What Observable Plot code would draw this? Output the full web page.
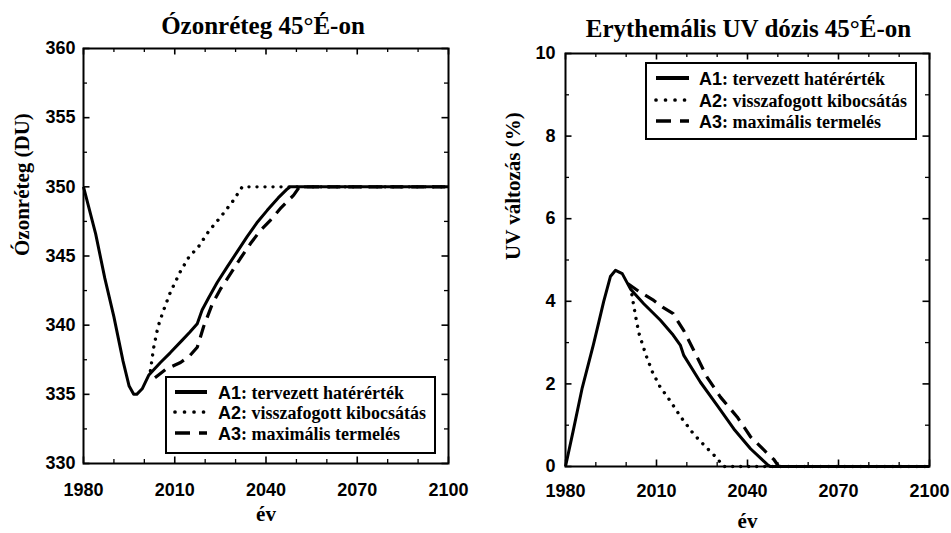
<!DOCTYPE html>
<html>
<head>
<meta charset="utf-8">
<script src="https://cdn.jsdelivr.net/npm/d3@7"></script>
<script src="https://cdn.jsdelivr.net/npm/@observablehq/plot@0.6"></script>
<style>
  body { margin: 0; background: #fff; }
  #wrap { position: relative; width: 951px; height: 533px; overflow: hidden; background: #fff; }
  #wrap svg { position: absolute; top: 0; max-width: none; }
</style>
</head>
<body>
<div id="wrap"></div>
<script>
// ---------- data ----------
const seriesNames = ["A1", "A2", "A3"];
const seriesLabels = ["tervezett hatérérték", "visszafogott kibocsátás", "maximális termelés"];

const xTickLabels = [1980, 2010, 2040, 2070, 2100];
const xMinorTicks = [1990, 2000, 2020, 2030, 2050, 2060, 2080, 2090];
const ozoneTickLabels = [330, 335, 340, 345, 350, 355, 360];
const ozoneMinorTicks = [332.5, 337.5, 342.5, 347.5, 352.5, 357.5];
const uvTickLabels = [0, 2, 4, 6, 8, 10];
const uvMinorTicks = [1, 3, 5, 7, 9];

const ozoneTitle = "Ózonréteg 45°É-on";
const uvTitle = "Erythemális UV dózis 45°É-on";
const ozoneYLabel = "Ózonréteg (DU)";
const uvYLabel = "UV változás (%)";
const xLabel = "év";

// Ozone (DU)
const ozoneA1Year = [1980, 1984, 1987, 1990, 1993, 1995, 1996.5, 1997.5, 1999.3, 2001.5, 2005.3, 2008.5, 2012.4, 2015, 2017.4, 2019, 2021.2, 2024, 2027.2, 2030.5, 2033.8, 2037, 2040.4, 2044, 2047, 2048, 2100];
const ozoneA1 = [350, 346.6, 343.4, 340.6, 337.4, 335.6, 335.0, 335.0, 335.4, 336.4, 337.3, 338.0, 338.9, 339.5, 340.1, 341.1, 342.0, 343.1, 344.2, 345.3, 346.4, 347.4, 348.3, 349.2, 349.85, 350, 350];
const ozoneA2Year = [2002, 2003, 2004.5, 2006.2, 2008.6, 2011.9, 2014.6, 2017.9, 2021.2, 2025, 2028.9, 2032.2, 2100];
const ozoneA2 = [336.7, 338.3, 339.9, 341.0, 342.4, 343.9, 344.9, 345.7, 346.8, 347.8, 348.9, 350, 350];
const ozoneA3Year = [2003.5, 2007, 2011.9, 2015, 2017.4, 2019.5, 2022.3, 2025, 2028.3, 2031.5, 2034.9, 2038, 2041.5, 2045, 2049.1, 2051, 2100];
const ozoneA3 = [336.2, 336.8, 337.3, 337.8, 338.4, 339.9, 341.5, 342.6, 343.7, 344.8, 345.9, 346.8, 347.6, 348.5, 349.4, 350, 350];

// Erythemal UV change (%)
const uvA1Year = [1980, 1982.5, 1985.5, 1989.2, 1991, 1992.6, 1994.8, 1996.5, 1998.7, 2001.4, 2005.8, 2011.3, 2015.2, 2017.9, 2019, 2024.5, 2030, 2035.5, 2041, 2046.5, 2047.5, 2100];
const uvA1 = [0, 0.85, 1.9, 2.95, 3.5, 4.0, 4.6, 4.75, 4.67, 4.3, 3.94, 3.54, 3.21, 2.93, 2.69, 2.04, 1.48, 0.91, 0.43, 0.05, 0, 0];
const uvA2Year = [2001.5, 2002, 2003.2, 2004.2, 2006.6, 2008.6, 2011, 2014.6, 2018, 2022.3, 2026.7, 2030, 2032, 2100];
const uvA2 = [4.35, 4.1, 3.6, 3.23, 2.68, 2.3, 1.95, 1.58, 1.2, 0.78, 0.44, 0.2, 0, 0];
const uvA3Year = [2000.5, 2004, 2009.1, 2012, 2015.5, 2017, 2019, 2022.3, 2026.7, 2031.1, 2036.6, 2041, 2046.5, 2048.7, 2050.3, 2100];
const uvA3 = [4.43, 4.25, 4.02, 3.86, 3.7, 3.52, 3.29, 2.81, 2.16, 1.68, 1.2, 0.72, 0.32, 0.17, 0, 0];

// ---------- styles ----------
const lineStyle = {
  A1: {strokeWidth: 3, dash: null, cap: "butt"},
  A2: {strokeWidth: 3.4, dash: "0.01 8", cap: "round"},
  A3: {strokeWidth: 3.2, dash: "13 8", cap: "butt"}
};
const serif = "'Liberation Serif', 'Times New Roman', serif";
const sans = "'Liberation Sans', Arial, sans-serif";

function table(years, values) {
  return years.map((year, i) => ({year, value: values[i]}));
}

function panel(cfg) {
  const W = 475, H = 533;
  const xDomain = [1980, 2100];
  const [y0, y1] = cfg.yDomain;
  const pw = W - cfg.marginLeft - cfg.marginRight;
  const ph = H - cfg.marginTop - cfg.marginBottom;
  // inward tick lengths (px) converted to data units of the other axis
  const majorPx = 6.5, minorPx = 4;
  const ky = (y1 - y0) / ph, kx = (xDomain[1] - xDomain[0]) / pw;
  const xTicks = (vals, px, sw) => [
    Plot.ruleX(vals, {x: d => d, y1: y0, y2: y0 + px * ky, stroke: "black", strokeWidth: sw}),
    Plot.ruleX(vals, {x: d => d, y1: y1, y2: y1 - px * ky, stroke: "black", strokeWidth: sw})
  ];
  const yTicks = (vals, px, sw) => [
    Plot.ruleY(vals, {y: d => d, x1: xDomain[0], x2: xDomain[0] + px * kx, stroke: "black", strokeWidth: sw}),
    Plot.ruleY(vals, {y: d => d, x1: xDomain[1], x2: xDomain[1] - px * kx, stroke: "black", strokeWidth: sw})
  ];
  const lines = cfg.series.map((s, i) => {
    const st = lineStyle[seriesNames[i]];
    return Plot.line(table(s[0], s[1]), {
      x: "year", y: "value", stroke: "black",
      strokeWidth: st.strokeWidth, strokeDasharray: st.dash,
      strokeLinecap: st.cap, strokeLinejoin: "round"
    });
  });
  const svg = Plot.plot({
    width: W, height: H,
    marginLeft: cfg.marginLeft, marginRight: cfg.marginRight,
    marginTop: cfg.marginTop, marginBottom: cfg.marginBottom,
    style: {background: "white", color: "black", fontFamily: sans},
    x: {domain: xDomain, axis: null},
    y: {domain: cfg.yDomain, axis: null},
    marks: [
      lines[2], lines[1], lines[0],
      ...xTicks(xTickLabels, majorPx, 1.6),
      ...xTicks(xMinorTicks, minorPx, 1.3),
      ...yTicks(cfg.yTicks, majorPx, 1.6),
      ...yTicks(cfg.yMinor, minorPx, 1.3),
      Plot.frame({stroke: "black", strokeWidth: 2}),
      Plot.axisX(xTickLabels, {
        anchor: "bottom", tickSize: 0, tickPadding: cfg.xTickPad, label: null,
        tickFormat: d => String(d), fontSize: 18, fontWeight: "bold", fontFamily: sans
      }),
      Plot.axisY(cfg.yTicks, {
        anchor: "left", tickSize: 0, tickPadding: cfg.yTickPad, label: null,
        tickFormat: d => String(d), fontSize: 18, fontWeight: "bold", fontFamily: sans
      }),
      Plot.text([cfg.title], {
        text: d => d, frameAnchor: "top", dx: cfg.titleDx, dy: cfg.titleDy, lineAnchor: "bottom",
        fontSize: 25, fontWeight: "bold", fontFamily: serif
      }),
      Plot.text([xLabel], {
        text: d => d, frameAnchor: "bottom", dy: cfg.xLabelDy, lineAnchor: "middle",
        fontSize: 21, fontWeight: "bold", fontFamily: serif
      }),
      Plot.text([cfg.yLabel], {
        text: d => d, frameAnchor: "left", dx: cfg.yLabelDx, rotate: -90, lineAnchor: "middle",
        fontSize: 21, fontWeight: "bold", fontFamily: serif
      })
    ]
  });
  svg.style.left = cfg.left + "px";

  // legend box
  const L = cfg.legend;
  const g = d3.select(svg).append("g");
  g.append("rect")
    .attr("x", L.x).attr("y", L.y).attr("width", L.w).attr("height", L.h)
    .attr("fill", "white").attr("stroke", "black").attr("stroke-width", 2);
  seriesNames.forEach((name, i) => {
    const st = lineStyle[name];
    g.append("line")
      .attr("x1", L.sx1).attr("x2", L.sx2)
      .attr("y1", L.rows[i] - 7).attr("y2", L.rows[i] - 7)
      .attr("stroke", "black")
      .attr("stroke-width", i === 0 ? 4 : st.strokeWidth + 0.3)
      .attr("stroke-dasharray", i === 1 ? "0.01 9.5" : i === 2 ? "15 9" : null)
      .attr("stroke-linecap", st.cap);
    const t = g.append("text")
      .attr("x", L.tx).attr("y", L.rows[i])
      .attr("text-anchor", "start")
      .attr("fill", "black").attr("font-weight", "bold").attr("font-size", 18);
    t.append("tspan").attr("font-family", sans).text(name);
    t.append("tspan").attr("font-family", serif).text(": " + seriesLabels[i]);
  });
  return svg;
}

const wrap = document.getElementById("wrap");

wrap.appendChild(panel({
  left: 0,
  marginLeft: 83, marginRight: 27, marginTop: 48, marginBottom: 70,
  yDomain: [330, 360], yTicks: ozoneTickLabels, yMinor: ozoneMinorTicks,
  series: [[ozoneA1Year, ozoneA1], [ozoneA2Year, ozoneA2], [ozoneA3Year, ozoneA3]],
  title: ozoneTitle, titleDx: -3, titleDy: -15,
  yLabel: ozoneYLabel, yLabelDx: -61,
  xTickPad: 20, yTickPad: 8, xLabelDy: 51,
  legend: {x: 166, y: 377, w: 269, h: 76, rows: [399, 419, 440], sx1: 175, sx2: 207, tx: 218}
}));

wrap.appendChild(panel({
  left: 476,
  marginLeft: 89, marginRight: 22, marginTop: 53, marginBottom: 67,
  yDomain: [0, 10], yTicks: uvTickLabels, yMinor: uvMinorTicks,
  series: [[uvA1Year, uvA1], [uvA2Year, uvA2], [uvA3Year, uvA3]],
  title: uvTitle, titleDx: 1, titleDy: -17,
  yLabel: uvYLabel, yLabelDx: -52,
  xTickPad: 18, yTickPad: 10, xLabelDy: 55,
  legend: {x: 170, y: 63, w: 270, h: 76, rows: [85, 107, 128], sx1: 180, sx2: 213, tx: 223}
}));
</script>
</body>
</html>
